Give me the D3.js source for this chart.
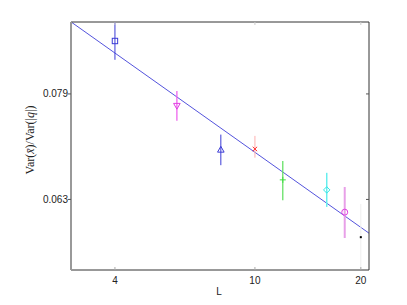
<!DOCTYPE html>
<html>
<head>
<meta charset="utf-8">
<script src="https://cdn.jsdelivr.net/npm/d3@7"></script>
<style>
  body { margin: 0; background: #fff; }
  text { font-family: "Liberation Sans", Arial, sans-serif; }
</style>
</head>
<body>
<svg id="chart" width="407" height="305"></svg>
<script>
// Data (L, value, error bar low/high)
var lValues   = [4, 6, 8, 10, 12, 16, 18, 20];
var varRatio  = [0.0885, 0.0770, 0.0701, 0.0702, 0.0657, 0.0643, 0.0613, 0.0581];
var errLow    = [0.0850, 0.0746, 0.0678, 0.0689, 0.0629, 0.0620, 0.0580, 0.0520];
var errHigh   = [0.0940, 0.0795, 0.0724, 0.0722, 0.0684, 0.0667, 0.0647, 0.0624];
var markers   = ["square", "triDown", "triUp", "cross", "plus", "diamond", "circle", "dot"];
var colors    = ["#3b3bd6", "#e23ee2", "#3b3bd6", "#ff3030", "#44dd44", "#33e6e6", "#e040e0", "#000000"];
var barColors = ["#3b3bd6", "#ee66ee", "#3b3bd6", "#ffb0b0", "#66e066", "#66eeee", "#e8a0e8", "#eeeeee"];

// fitted power-law line, endpoints
var fitL = [3, 21.1];
var fitV = [0.0922, 0.0586];

var xTicks = [4, 10, 20];
var yTicks = [0.063, 0.079];

var margin = { top: 22, right: 38, bottom: 35, left: 71 },
  width = 407 - margin.left - margin.right,
  height = 305 - margin.top - margin.bottom;

var svg = d3.select("#chart")
.append("g")
  .attr("transform", "translate(" + margin.left + "," + margin.top + ")");

var x = d3.scaleLog().domain([3, 21.1]).range([0, width]);
var y = d3.scaleLog().domain([0.05415, 0.09218]).range([height, 0]);

svg.append("clipPath").attr("id", "clip")
  .append("rect").attr("width", width).attr("height", height);

var plot = svg.append("g").attr("clip-path", "url(#clip)");

// fit line
plot.append("line")
  .attr("x1", x(fitL[0])).attr("y1", y(fitV[0]))
  .attr("x2", x(fitL[1])).attr("y2", y(fitV[1]))
  .attr("stroke", "#4040d8").attr("stroke-width", 0.9);

var barWidth = [1, 1.3, 1, 1, 1.3, 1.5, 2, 1];

// error bars
lValues.forEach(function(l, i) {
  plot.append("line")
    .attr("x1", x(l)).attr("x2", x(l))
    .attr("y1", y(errLow[i])).attr("y2", y(errHigh[i]))
    .attr("stroke", barColors[i]).attr("stroke-width", barWidth[i]);
});

// markers
lValues.forEach(function(l, i) {
  var cx = x(l), cy = y(varRatio[i]);
  var g = plot.append("g").attr("transform", "translate(" + cx + "," + cy + ")")
    .attr("fill", "none").attr("stroke", colors[i]).attr("stroke-width", 1);
  switch (markers[i]) {
    case "square":
      g.append("rect").attr("x", -2.7).attr("y", -2.7).attr("width", 5.4).attr("height", 5.4); break;
    case "triDown":
      g.append("path").attr("d", "M-3.3,-2.5L3.3,-2.5L0,3.3Z"); break;
    case "triUp":
      g.append("path").attr("d", "M-3.3,2.5L3.3,2.5L0,-3.3Z"); break;
    case "cross":
      g.append("path").attr("d", "M-2.2,-2.2L2.2,2.2M-2.2,2.2L2.2,-2.2"); break;
    case "plus":
      g.append("path").attr("d", "M-3,0L3,0M0,-3L0,3"); break;
    case "diamond":
      g.append("path").attr("d", "M0,-3.2L3.2,0L0,3.2L-3.2,0Z"); break;
    case "circle":
      g.append("circle").attr("r", 3); break;
    case "dot":
      g.append("rect").attr("x", -1).attr("y", -1).attr("width", 2).attr("height", 2)
        .attr("fill", colors[i]).attr("stroke", "none"); break;
  }
});

// axes box
svg.append("line").attr("x1", 0).attr("x2", width).attr("y1", 0).attr("y2", 0)
  .attr("stroke", "#333").attr("stroke-width", 1);
svg.append("line").attr("x1", width).attr("x2", width).attr("y1", 0).attr("y2", height)
  .attr("stroke", "#333").attr("stroke-width", 1);
svg.append("line").attr("x1", 0).attr("x2", width).attr("y1", height).attr("y2", height)
  .attr("stroke", "#333").attr("stroke-width", 1);
svg.append("line").attr("x1", 0).attr("x2", 0).attr("y1", 0).attr("y2", height)
  .attr("stroke", "#999").attr("stroke-width", 2);

// x ticks (inward, bottom and top)
xTicks.forEach(function(t) {
  svg.append("line").attr("x1", x(t)).attr("x2", x(t)).attr("y1", height).attr("y2", height - 3)
    .attr("stroke", "#aaa");
  svg.append("line").attr("x1", x(t)).attr("x2", x(t)).attr("y1", 0).attr("y2", 3)
    .attr("stroke", "#ccc");
  svg.append("text").attr("x", x(t)).attr("y", height + 14)
    .attr("text-anchor", "middle").attr("font-size", 10).attr("fill", "#222").text(t);
});

// y ticks
yTicks.forEach(function(t) {
  svg.append("line").attr("x1", -3).attr("x2", 0).attr("y1", y(t)).attr("y2", y(t))
    .attr("stroke", "#555");
  svg.append("line").attr("x1", width).attr("x2", width - 3).attr("y1", y(t)).attr("y2", y(t))
    .attr("stroke", "#555");
  svg.append("text").attr("x", -3).attr("y", y(t)).attr("dy", "0.35em")
    .attr("text-anchor", "end").attr("font-size", 10).attr("fill", "#222").text(t);
});

// axis labels
svg.append("text").attr("x", 148).attr("y", height + 25)
  .attr("text-anchor", "middle").attr("font-size", 10).attr("fill", "#222").text("L");

var yl = svg.append("text")
  .attr("transform", "translate(-37," + (height / 2 - 6) + ") rotate(-90)")
  .attr("text-anchor", "middle")
  .style("font-family", "'Liberation Serif', 'DejaVu Serif', serif")
  .attr("font-size", 12).attr("fill", "#222");
yl.append("tspan").text("Var(");
yl.append("tspan").attr("font-style", "italic").text("x\u0304");
yl.append("tspan").text(")/Var(|");
yl.append("tspan").attr("font-style", "italic").text("q");
yl.append("tspan").text("|)");
</script>
</body>
</html>
